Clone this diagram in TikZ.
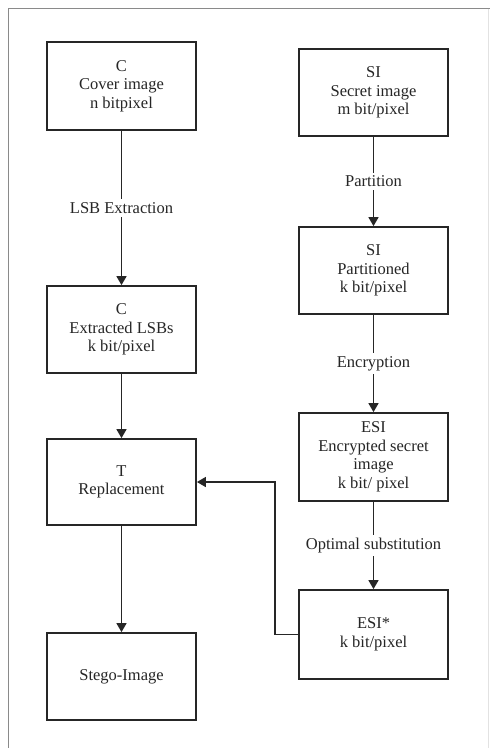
\documentclass[tikz,border=0pt]{standalone}
\usepackage{fontspec}
\setmainfont{Liberation Serif}
\usetikzlibrary{arrows.meta}
\definecolor{ink}{HTML}{262626}
\definecolor{frame}{HTML}{8A8A8A}
\begin{document}
\begin{tikzpicture}[x=1pt,y=-1pt,
  font=\fontsize{16.5}{18.5}\selectfont,
  box/.style={draw=ink,line width=1.8pt,minimum width=149pt,minimum height=87pt,
    align=center,text=ink,inner sep=2pt},
  conn/.style={draw=ink,line width=1.6pt,-{Triangle[length=9pt,width=10pt]}},
  lab/.style={fill=white,text=ink,inner sep=3pt}]
\useasboundingbox (0,0) rectangle (490,748);
\fill[white] (0,0) rectangle (490,748);
% frame
\coordinate (f1) at (8.5,748);
\coordinate (f2) at (8.5,8.5);
\coordinate (f3) at (490,8.5);
\coordinate (f4) at (488.5,8.5);
\coordinate (f5) at (488.5,748);
\draw[frame,line width=1.6pt] (f1) -- (f2) -- (f3);
\draw[frame!25,line width=1pt] (f4) -- (f5);
% left column
\node[box,minimum height=88pt] (C) at (121.5,86) {C\\Cover image\\n bitpixel};
\node[box] (Cx) at (121.5,329.5) {C\\Extracted LSBs\\k bit/pixel};
\node[box,minimum height=86pt] (T) at (121.5,482) {T\\Replacement};
\node[box] (St) at (121.5,676.5) {Stego-Image};
% right column
\node[box] (SI) at (373.5,92.5) {SI\\Secret image\\m bit/pixel};
\node[box] (SIp) at (373.5,270.5) {SI\\Partitioned\\k bit/pixel};
\node[box,minimum height=88pt] (ESI) at (373.5,457) {ESI\\Encrypted secret\\image\\k bit/ pixel};
\node[box,minimum height=89pt] (ESIs) at (373.5,634.5) {ESI*\\k bit/pixel};
% connectors
\draw[conn] (C) -- node[lab]{LSB Extraction} (Cx);
\draw[conn] (Cx) -- (T);
\draw[conn] (T) -- (St);
\draw[conn] (SI) -- node[lab]{Partition} (SIp);
\draw[conn] (SIp) -- node[lab]{Encryption} (ESI);
\draw[conn] (ESI) -- node[lab]{Optimal substitution} (ESIs);
\draw[conn] (ESIs.west) -- ++(-23,0) |- (T.east);
\end{tikzpicture}
\end{document}
